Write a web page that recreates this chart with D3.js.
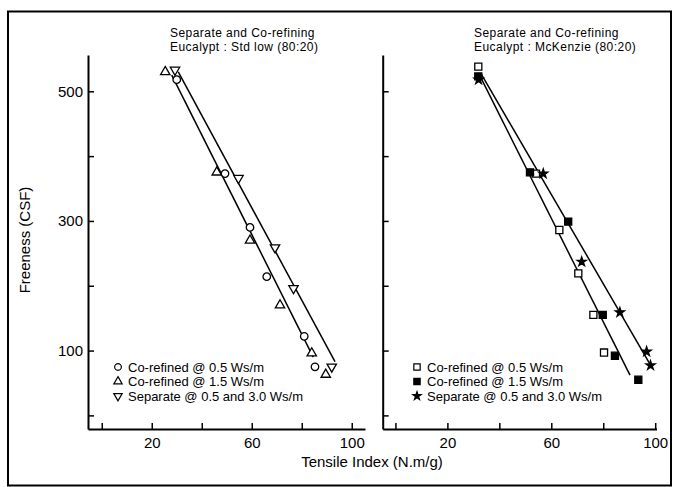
<!DOCTYPE html>
<html>
<head>
<meta charset="utf-8">
<script src="https://cdn.jsdelivr.net/npm/d3@7"></script>
<style>
  body { margin: 0; background: #fff; }
  svg { display: block; font-family: "Liberation Sans", Arial, sans-serif; }
</style>
</head>
<body>
<svg id="chart" width="673" height="487"></svg>
<script>
// values (Tensile index, Freeness CSF)
const stdCoref05 = [[30, 518], [49.3, 373], [59.3, 290], [66, 214], [81, 122], [85.3, 75]];
const stdCoref15 = [[25.4, 530], [46, 375], [59.3, 270], [71.3, 170], [84, 96], [89.6, 63]];
const stdSeparate = [[29.3, 533], [54.7, 366], [69.3, 259], [76.7, 196], [92, 75]];
const stdFitCoref = [[28, 525], [84.6, 90]];
const stdFitSeparate = [[30.6, 530], [93.3, 83]];

const mckCoref05 = [[31.9, 538], [54.1, 373], [63.1, 286], [70.4, 219], [76.2, 155], [80.3, 97]];
const mckCoref15 = [[31.9, 523], [51.8, 375], [66.5, 299], [79.8, 155], [84.5, 92], [93.5, 55]];
const mckSeparate = [[32, 518], [56.9, 373], [71.7, 237], [86.4, 159], [96.7, 98.5], [98.2, 77]];
const mckFitCoref = [[32, 528], [90.3, 62]];
const mckFitSeparate = [[33, 527], [98.6, 75]];

const xTicks = [0, 20, 40, 60, 80, 100];
const xLabels = [20, 60, 100];
const yTicks = [0, 100, 200, 300, 400, 500];
const yLabels = [100, 300, 500];

const svg = d3.select("#chart");

// outer frame of the scanned figure
svg.append("rect")
  .attr("x", 8).attr("y", 11.5).attr("width", 663).attr("height", 474)
  .attr("fill", "none").attr("stroke", "#000").attr("stroke-width", 2);

const yDomain = [-21, 556];

const panels = [
  {
    left: 88, right: 365, xDomain: [-5.5, 105.3], showYLabels: true,
    title: ["Separate and Co-refining", "Eucalypt : Std low (80:20)"], titleX: 170,
    series: [
      {data: stdCoref05, shape: d3.symbolCircle, size: 44, fill: "#fff", rot: 0, name: "Co-refined @ 0.5 Ws/m"},
      {data: stdCoref15, shape: d3.symbolTriangle, size: 38, fill: "#fff", rot: 0, name: "Co-refined @ 1.5 Ws/m"},
      {data: stdSeparate, shape: d3.symbolTriangle, size: 38, fill: "#fff", rot: 180, name: "Separate @ 0.5 and 3.0 Ws/m"}
    ],
    fits: [stdFitCoref, stdFitSeparate],
    legendX: 118
  },
  {
    left: 382.7, right: 656.5, xDomain: [-4.9, 100.5], showYLabels: false,
    title: ["Separate and Co-refining", "Eucalypt : McKenzie (80:20)"], titleX: 474,
    series: [
      {data: mckCoref05, shape: d3.symbolSquare, size: 50, fill: "#fff", rot: 0, name: "Co-refined @ 0.5 Ws/m"},
      {data: mckCoref15, shape: d3.symbolSquare, size: 50, fill: "#000", rot: 0, name: "Co-refined @ 1.5 Ws/m"},
      {data: mckSeparate, shape: d3.symbolStar, size: 26, fill: "#000", rot: 0, name: "Separate @ 0.5 and 3.0 Ws/m"}
    ],
    fits: [mckFitCoref, mckFitSeparate],
    legendX: 417
  }
];

panels.forEach(p => {
  const x = d3.scaleLinear().domain(p.xDomain).range([p.left, p.right]);
  const y = d3.scaleLinear().domain(yDomain).range([429, 55]);

  // titles
  p.title.forEach((t, i) => {
    svg.append("text")
      .attr("x", p.titleX).attr("y", 37 + i * 14)
      .attr("font-size", 12).attr("letter-spacing", 0.45).text(t);
  });

  // axes, ticks pointing inwards
  const yAxis = d3.axisLeft(y).tickValues(yTicks).tickSize(-6).tickSizeOuter(0).tickPadding(5)
    .tickFormat(d => p.showYLabels && yLabels.includes(d) ? d : "");
  const gy = svg.append("g").attr("transform", `translate(${p.left},0)`).call(yAxis);

  const xAxis = d3.axisBottom(x).tickValues(xTicks).tickSize(-6).tickSizeOuter(0).tickPadding(8)
    .tickFormat(d => xLabels.includes(d) ? d : "");
  const gx = svg.append("g").attr("transform", "translate(0,429)").call(xAxis);

  [gx, gy].forEach(g => {
    g.select(".domain").attr("stroke-width", 2);
    g.selectAll(".tick line").attr("stroke-width", 1.5);
    g.selectAll(".tick text").attr("font-size", 15).attr("fill", "#000")
      .attr("font-family", "Liberation Sans, Arial, sans-serif");
  });

  // fitted lines
  const line = d3.line().x(d => x(d[0])).y(d => y(d[1]));
  p.fits.forEach(f => {
    svg.append("path").attr("d", line(f))
      .attr("fill", "none").attr("stroke", "#000").attr("stroke-width", 1.5);
  });

  // markers
  p.series.forEach(s => {
    const sym = d3.symbol().type(s.shape).size(s.size);
    svg.append("g").selectAll("path").data(s.data).join("path")
      .attr("d", sym)
      .attr("transform", d => `translate(${x(d[0])},${y(d[1])}) rotate(${s.rot})`)
      .attr("fill", s.fill).attr("stroke", "#000").attr("stroke-width", 1.3);
  });

  // legend
  p.series.forEach((s, i) => {
    const ly = 367 + i * 14.5;
    const sym = d3.symbol().type(s.shape).size(s.size * 0.8);
    svg.append("path").attr("d", sym)
      .attr("transform", `translate(${p.legendX},${ly}) rotate(${s.rot})`)
      .attr("fill", s.fill).attr("stroke", "#000").attr("stroke-width", 1.2);
    svg.append("text").attr("x", p.legendX + 10).attr("y", ly + 4.5)
      .attr("font-size", 13).text(s.name);
  });
});

// axis titles
svg.append("text")
  .attr("transform", "translate(30,240) rotate(-90)")
  .attr("text-anchor", "middle").attr("font-size", 15)
  .text("Freeness (CSF)");

svg.append("text")
  .attr("x", 372).attr("y", 467)
  .attr("text-anchor", "middle").attr("font-size", 15)
  .text("Tensile Index (N.m/g)");
</script>
</body>
</html>
